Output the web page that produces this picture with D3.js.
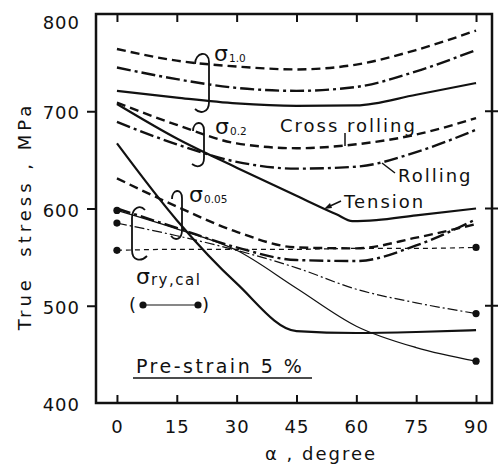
<!DOCTYPE html>
<html>
<head>
<meta charset="utf-8">
<script src="https://cdn.jsdelivr.net/npm/d3@7"></script>
<style>
  body { margin: 0; background: #fff; }
  svg { display: block; font-family: "DejaVu Sans", sans-serif; }
</style>
</head>
<body>
<div id="chart"></div>
<script>
const angles = [0, 15, 30, 45, 60, 75, 90];
const tensionAngles = [0, 15, 30, 45, 55, 59, 65, 75, 90];
const xTicks = [0, 15, 30, 45, 60, 75, 90];
const yTicks = [400, 500, 600, 700, 800];

// sigma 1.0
const s10Cross = [764, 752, 746, 743, 748, 763, 783];
const s10Roll = [745, 733, 724, 721, 725, 741, 763];
const s10Tens = [721, 714, 708, 705.5, 706, 717, 729];
// sigma 0.2 (tension read at tensionAngles)
const s02Cross = [709, 686, 667, 662, 666, 676, 693];
const s02Roll = [689, 666, 648, 641, 643, 658, 681];
const s02Tens = [707.5, 672, 642, 613, 594, 587, 588, 593, 600];
// sigma 0.05
const s005Cross = [631, 602, 576, 560, 559, 570, 584];
const s005Roll = [600, 580, 560, 547, 546, 562, 589];
const s005Tens = [667, 588, 523, 474, 472, 473, 475];
// sigma ry,cal (calculated, thin lines with end dots)
const ryCross = [557, 558, 558, 558, 559, 559, 560];
const ryRoll = [585, 572, 557, 539, 517, 503, 492];
const ryTens = [598, 579, 557, 518, 479, 457, 443];

const width = 499, height = 465;
const svg = d3.select("#chart").append("svg").attr("width", width).attr("height", height);

const x = d3.scaleLinear().domain([-5.25, 94]).range([96, 492]);
const y = d3.scaleLinear().domain([400, 800]).range([403, 14]);

// line styles
const styles = {
    cross: {w: 2.4, dash: "9,5"},
    roll: {w: 2.4, dash: "14,4,3,4"},
    tens: {w: 2.2, dash: null},
    ryCross: {w: 1.2, dash: "5,4"},
    ryRoll: {w: 1.2, dash: "10,3,2,3"},
    ryTens: {w: 1.2, dash: null}
};

const series = [
    {xs: angles, v: s10Cross, s: "cross"},
    {xs: angles, v: s10Roll, s: "roll"},
    {xs: angles, v: s10Tens, s: "tens"},
    {xs: angles, v: s02Cross, s: "cross"},
    {xs: angles, v: s02Roll, s: "roll"},
    {xs: tensionAngles, v: s02Tens, s: "tens"},
    {xs: angles, v: s005Cross, s: "cross"},
    {xs: angles, v: s005Roll, s: "roll"},
    {xs: angles, v: s005Tens, s: "tens"},
    {xs: angles, v: ryCross, s: "ryCross", dots: true},
    {xs: angles, v: ryRoll, s: "ryRoll", dots: true},
    {xs: angles, v: ryTens, s: "ryTens", dots: true}
];

const line = d3.line()
    .x(d => x(d[0]))
    .y(d => y(d[1]))
    .curve(d3.curveMonotoneX);

series.forEach(sr => {
    const pts = sr.xs.map((a, i) => [a, sr.v[i]]);
    const st = styles[sr.s];
    svg.append("path")
        .attr("d", line(pts))
        .attr("fill", "none")
        .attr("stroke", "#111")
        .attr("stroke-width", st.w)
        .attr("stroke-dasharray", st.dash);
    if (sr.dots) {
        svg.selectAll(null)
            .data([pts[0], pts[pts.length - 1]])
            .enter()
            .append("circle")
            .attr("cx", d => x(d[0]))
            .attr("cy", d => y(d[1]))
            .attr("r", 3.6)
            .attr("fill", "#111");
    }
});

// frame
svg.append("rect")
    .attr("x", x.range()[0]).attr("y", y.range()[1])
    .attr("width", x.range()[1] - x.range()[0])
    .attr("height", y.range()[0] - y.range()[1])
    .attr("fill", "none").attr("stroke", "#111").attr("stroke-width", 2.5);

function styleAxis(g) {
    g.select(".domain").remove();
    g.selectAll(".tick line").attr("stroke", "#111").attr("stroke-width", 2);
    g.selectAll(".tick text")
        .attr("fill", "#111")
        .style("font-family", "DejaVu Sans, sans-serif")
        .style("font-size", "18px")
        .style("letter-spacing", "1px");
}

svg.append("g")
    .attr("transform", `translate(0,${y(400)})`)
    .call(d3.axisBottom(x).tickValues(xTicks).tickSize(-8).tickPadding(17))
    .call(styleAxis);

svg.append("g")
    .attr("transform", `translate(0,${y(800)})`)
    .call(d3.axisTop(x).tickValues(xTicks).tickSize(-8).tickFormat(""))
    .call(styleAxis);

const left = svg.append("g")
    .attr("transform", `translate(${x.range()[0]},0)`)
    .call(d3.axisLeft(y).tickValues(yTicks).tickSize(9).tickPadding(7))
    .call(styleAxis);
left.selectAll(".tick line").filter(d => d === 400 || d === 800).remove();
left.selectAll(".tick text").attr("dy", d => d === 800 ? "0.78em" : "0.42em");

// right ticks cross the frame
svg.selectAll(null)
    .data([500, 600, 700])
    .enter()
    .append("line")
    .attr("x1", x.range()[1] - 7).attr("x2", x.range()[1] + 6)
    .attr("y1", d => y(d)).attr("y2", d => y(d))
    .attr("stroke", "#111").attr("stroke-width", 2);

// axis titles
svg.append("text")
    .attr("x", 321).attr("y", 460)
    .attr("text-anchor", "middle")
    .style("font-size", "18px").style("letter-spacing", "2px")
    .attr("fill", "#111")
    .text("α , degree");

svg.append("text")
    .attr("transform", "translate(31,216) rotate(-90)")
    .attr("text-anchor", "middle")
    .style("font-size", "18px").style("letter-spacing", "4px")
    .style("white-space", "pre")
    .attr("fill", "#111")
    .text("True  stress , MPa");

// sigma labels
function sigma(px, py, sub, subSize, subSpacing) {
    const t = svg.append("text").attr("x", px).attr("y", py).attr("fill", "#111");
    t.append("tspan").style("font-size", "22px").text("σ");
    t.append("tspan").attr("dx", 1).attr("dy", 1)
        .style("font-size", subSize + "px")
        .style("letter-spacing", subSpacing + "px")
        .text(sub);
}
sigma(214, 61, "1.0", 10.5, 0);
sigma(215, 134, "0.2", 10.5, 0);
sigma(189, 202, "0.05", 10.5, 0);
sigma(136, 284, "ry,cal", 15, 1.5);

// brackets
const brackets = [
    "M195,64 C195,52 209,50 209,62 L209,102 C209,113 200,114 195,109",
    "M193,131 C193,121 204,120 204,130 L204,158 C204,167 197,168 192,164",
    "M172,199 C172,189 182,188 182,198 L182,230 C182,240 175,241 171,236",
    "M145,210 C140,204 132,208 132,218 L132,250 C132,261 141,262 147,256"
];
svg.selectAll(null)
    .data(brackets)
    .enter()
    .append("path")
    .attr("d", d => d)
    .attr("fill", "none").attr("stroke", "#111").attr("stroke-width", 1.8);

// legend for calculated lines
const leg = svg.append("g").attr("fill", "#111").style("font-size", "18px");
leg.append("text").attr("x", 129).attr("y", 311).text("(");
leg.append("text").attr("x", 202).attr("y", 311).text(")");
leg.append("line").attr("x1", 143).attr("x2", 198).attr("y1", 305).attr("y2", 305)
    .attr("stroke", "#111").attr("stroke-width", 1.2);
leg.selectAll("circle").data([143, 198]).enter().append("circle")
    .attr("cx", d => d).attr("cy", 305).attr("r", 3.6);

// curve labels
function label(px, py, txt) {
    svg.append("text").attr("x", px).attr("y", py)
        .style("font-size", "18px").style("letter-spacing", "2px")
        .attr("fill", "#111").text(txt);
}
label(280, 132, "Cross rolling");
label(398, 182, "Rolling");
label(344, 208, "Tension");

svg.append("line").attr("x1", 345).attr("x2", 345).attr("y1", 133).attr("y2", 146)
    .attr("stroke", "#111").attr("stroke-width", 1.5);
svg.append("line").attr("x1", 382).attr("x2", 395).attr("y1", 163).attr("y2", 173)
    .attr("stroke", "#111").attr("stroke-width", 1.5);
svg.append("line").attr("x1", 341).attr("x2", 328).attr("y1", 201).attr("y2", 207)
    .attr("stroke", "#111").attr("stroke-width", 1.5);
svg.append("path").attr("d", "M324,209 L330,203 L332,208 Z").attr("fill", "#111");

// pre-strain note
svg.append("text").attr("x", 136).attr("y", 373)
    .style("font-size", "19px").style("letter-spacing", "2.5px")
    .attr("fill", "#111").text("Pre-strain 5 %");
svg.append("line").attr("x1", 133).attr("x2", 312).attr("y1", 378).attr("y2", 378)
    .attr("stroke", "#111").attr("stroke-width", 1.5);
</script>
</body>
</html>
